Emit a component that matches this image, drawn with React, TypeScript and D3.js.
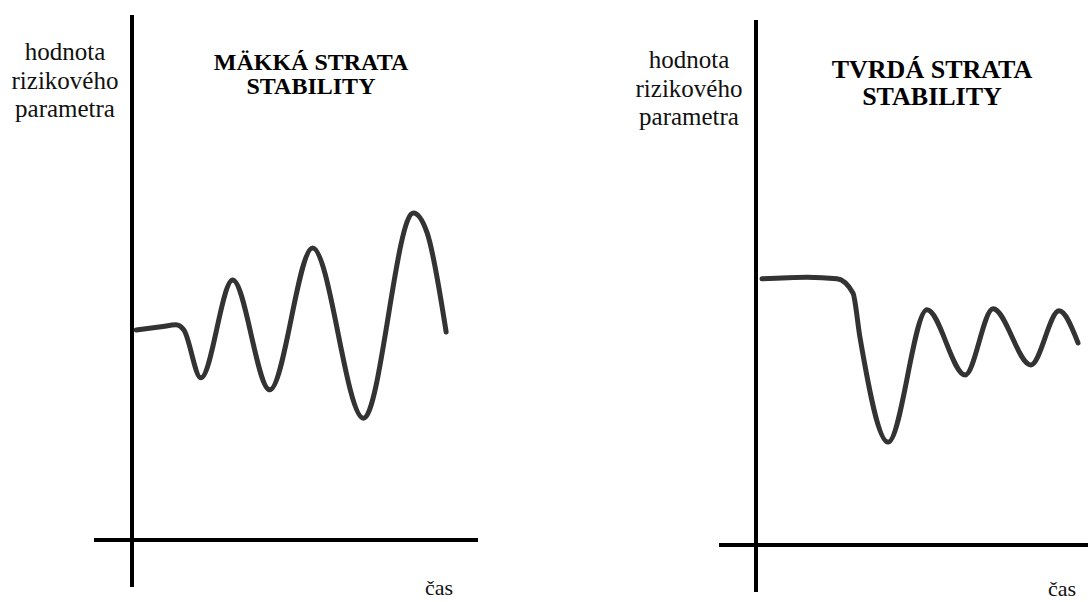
import React from "react";
import * as d3 from "d3";

// Soft loss of stability (left panel): time (0-100) vs risk-parameter value (0-100)
const softTime = [1.2, 8.4, 12.7, 15.0, 19.9, 29.1, 39.8, 52.2, 66.9, 81.3, 85.3, 90.8];
const softValue = [40.0, 40.6, 41.0, 40.0, 30.9, 49.5, 28.6, 55.6, 23.2, 62.3, 58.5, 39.6];

// Hard loss of stability (right panel)
const hardTime = [1.8, 15.4, 24.4, 29.2, 31.3, 39.8, 51.5, 63.0, 71.4, 82.8, 91.3, 97.0];
const hardValue = [50.7, 51.0, 50.7, 48.0, 39.6, 19.6, 44.8, 32.4, 45.0, 34.3, 44.6, 38.5];

const yLabelLines = ["hodnota", "rizikového", "parametra"];
const softTitle = ["MÄKKÁ STRATA", "STABILITY"];
const hardTitle = ["TVRDÁ STRATA", "STABILITY"];
const xLabel = "čas";

const W = 1088;
const H = 602;
const FONT = "Liberation Serif, Times New Roman, serif";

type PanelProps = {
  time: number[];
  value: number[];
  title: string[];
  x0: number;
  x1: number;
  y0: number;
  yTop: number;
  axisLeft: number;
  axisBottom: number;
  labelX: number;
  labelY: number;
  titleX: number;
  titleY: number;
  titleSize: number;
  titleGap: number;
  casX: number;
  casY: number;
  casSize: number;
};

function Panel(p: PanelProps) {
  const x = d3.scaleLinear().domain([0, 100]).range([p.x0, p.x1]);
  const y = d3.scaleLinear().domain([0, 100]).range([p.y0, p.yTop]);
  const pts: [number, number][] = p.time.map((t, i) => [t, p.value[i]]);
  const line = d3
    .line<[number, number]>()
    .x((d) => x(d[0]))
    .y((d) => y(d[1]))
    .curve(d3.curveMonotoneX);
  return (
    <g>
      <line x1={p.x0} x2={p.x0} y1={p.yTop} y2={p.axisBottom} stroke="#000" strokeWidth={4} />
      <line x1={p.axisLeft} x2={p.x1} y1={p.y0} y2={p.y0} stroke="#000" strokeWidth={4} />
      <path d={line(pts) || ""} fill="none" stroke="#333" strokeWidth={5} strokeLinecap="round" strokeLinejoin="round" />
      <text fontFamily={FONT} fontSize={25} fill="#111" textAnchor="middle">
        {yLabelLines.map((s, i) => (
          <tspan key={i} x={p.labelX} y={p.labelY + i * 28.5}>
            {s}
          </tspan>
        ))}
      </text>
      <text fontFamily={FONT} fontSize={p.titleSize} fontWeight="bold" fill="#000" textAnchor="middle">
        {p.title.map((s, i) => (
          <tspan key={i} x={p.titleX} y={p.titleY + i * p.titleGap}>
            {s}
          </tspan>
        ))}
      </text>
      <text x={p.casX} y={p.casY} fontFamily={FONT} fontSize={p.casSize} fill="#111" textAnchor="middle">
        {xLabel}
      </text>
    </g>
  );
}

export default function App() {
  return (
    <svg width={W} height={H} style={{ position: "absolute", left: 0, top: 0, display: "block", background: "#fff" }}>
      <rect width={W} height={H} fill="#fff" />
      <Panel
        time={softTime}
        value={softValue}
        title={softTitle}
        x0={132}
        x1={478}
        y0={540}
        yTop={15}
        axisLeft={94}
        axisBottom={587}
        labelX={65}
        labelY={60}
        titleX={311}
        titleY={70}
        titleSize={24}
        titleGap={24}
        casX={439}
        casY={595}
        casSize={22}
      />
      <Panel
        time={hardTime}
        value={hardValue}
        title={hardTitle}
        x0={756}
        x1={1088}
        y0={545}
        yTop={20}
        axisLeft={719}
        axisBottom={592}
        labelX={689}
        labelY={68}
        titleX={932}
        titleY={78}
        titleSize={26}
        titleGap={26.5}
        casX={1062}
        casY={596}
        casSize={22}
      />
    </svg>
  );
}
